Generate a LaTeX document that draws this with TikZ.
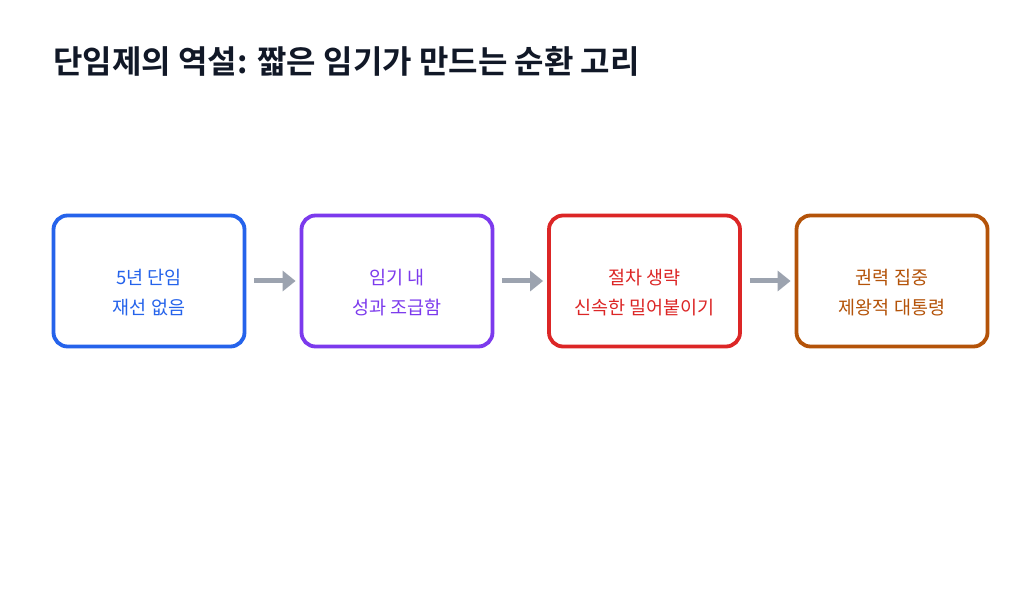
\documentclass[tikz,border=0pt]{standalone}
\usepackage{fontspec}
\setmainfont{Noto Sans CJK KR}
\newfontfamily\titlefont{Noto Sans CJK KR Bold}
\usetikzlibrary{arrows.meta}
\definecolor{cblue}{HTML}{2563EB}
\definecolor{cpurple}{HTML}{7C3AED}
\definecolor{cred}{HTML}{DC2626}
\definecolor{corange}{HTML}{B45309}
\definecolor{carrow}{HTML}{9CA3AF}
\definecolor{ctitle}{HTML}{111827}
\begin{document}
\begin{tikzpicture}[x=1pt,y=1pt,
  stage/.style={draw=#1, line width=3.8pt, rounded corners=14pt,
    minimum width=191pt, minimum height=131pt, inner sep=0pt},
  stagetext/.style={text=#1, align=center,
    font=\fontsize{18.5}{30}\selectfont, inner sep=0pt},
  flow/.style={draw=carrow, line width=5pt, -{Triangle[length=13pt,width=20pt]}}
]
\useasboundingbox (0,0) rectangle (1024,597);
\fill[white] (0,0) rectangle (1024,597);
\node[anchor=base west, text=ctitle, font=\titlefont\fontsize{32}{38}\selectfont] (title) at (50,523) {단임제의 역설: 짧은 임기가 만드는 순환 고리};
\node[stage=cblue] (s1) at (149,316) {};
\node[stage=cpurple] (s2) at (397,316) {};
\node[stage=cred] (s3) at (644.5,316) {};
\node[stage=corange] (s4) at (892,316) {};
\node[stagetext=cblue] (t1) at ([yshift=-12pt]s1.center) {5년 단임\\재선 없음};
\node[stagetext=cpurple] (t2) at ([yshift=-12pt]s2.center) {임기 내\\성과 조급함};
\node[stagetext=cred] (t3) at ([yshift=-12pt]s3.center) {절차 생략\\신속한 밀어붙이기};
\node[stagetext=corange] (t4) at ([yshift=-12pt]s4.center) {권력 집중\\제왕적 대통령};
\draw[flow] ([xshift=8pt]s1.east) -- ([xshift=-4pt]s2.west);
\draw[flow] ([xshift=8pt]s2.east) -- ([xshift=-4pt]s3.west);
\draw[flow] ([xshift=8pt]s3.east) -- ([xshift=-4pt]s4.west);
\end{tikzpicture}
\end{document}
